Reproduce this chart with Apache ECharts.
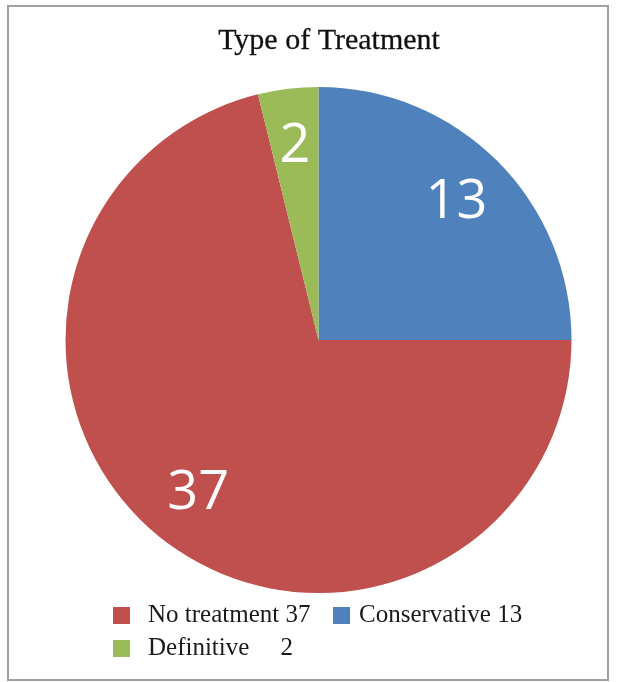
<!DOCTYPE html>
<html>
<head>
<meta charset="utf-8">
<script src="https://cdn.jsdelivr.net/npm/echarts@6/dist/echarts.min.js"></script>
<style>html,body{margin:0;padding:0;background:#fff}#c{width:619px;height:682px}</style>
</head>
<body>
<div id="c"></div>
<script>
const titleText = 'Type of Treatment';
const categories = ['Conservative 13', 'No treatment 37', 'Definitive     2'];
const values = [13, 37, 2];
const colors = ['#4F81BD', '#C0504D', '#9BBB59'];
const legendRow1a = ['No treatment 37'];
const legendRow1b = ['Conservative 13'];
const legendRow2 = ['Definitive     2'];

const chart = echarts.init(document.getElementById('c'), null, {renderer: 'canvas'});
const serif = '"Liberation Serif", "Times New Roman", serif';
const pieData = categories.map((n, i) => ({name: n, value: values[i], itemStyle: {color: colors[i]}}));
const labelData = categories.map((n, i) => ({name: n, value: values[i]}));
function legendOf(names, left, top, pad) {
  return {
    orient: 'horizontal', icon: 'rect', itemWidth: 17, itemHeight: 17, padding: 0,
    left: left, top: top, data: names, selectedMode: false,
    textStyle: {fontFamily: serif, fontSize: 25, color: '#1a1a1a', padding: [0, 0, 0, pad]}
  };
}
chart.setOption({
  animation: false,
  backgroundColor: '#fff',
  title: {
    text: titleText, left: 324, top: 21, textAlign: 'center',
    textStyle: {fontFamily: serif, fontSize: 30, fontWeight: 'normal', color: '#111',
      textBorderColor: '#111', textBorderWidth: 0.3}
  },
  legend: [
    legendOf(legendRow1a, 113, 603, 13),
    legendOf(legendRow1b, 333, 603, 4),
    legendOf(legendRow2, 113, 636, 13)
  ],
  graphic: [{
    type: 'rect', shape: {x: 8, y: 6, width: 600, height: 674},
    style: {fill: 'none', stroke: '#a0a0a0', lineWidth: 2}, silent: true, z: 100
  }],
  series: [{
    type: 'pie', center: [318.5, 340], radius: 253, startAngle: 90, clockwise: true,
    label: {show: false}, labelLine: {show: false}, silent: true,
    itemStyle: {borderWidth: 0}, data: pieData
  }, {
    type: 'pie', center: [318.5, 340], radius: [131, 253], startAngle: 90, clockwise: true,
    silent: true, legendHoverLink: false,
    itemStyle: {color: 'transparent', borderWidth: 0},
    label: {show: true, position: 'inside', formatter: p => String(p.value),
      fontFamily: '"Open Sans", sans-serif', fontSize: 54, color: '#fff'},
    labelLine: {show: false},
    data: labelData
  }]
});
</script>
</body>
</html>
